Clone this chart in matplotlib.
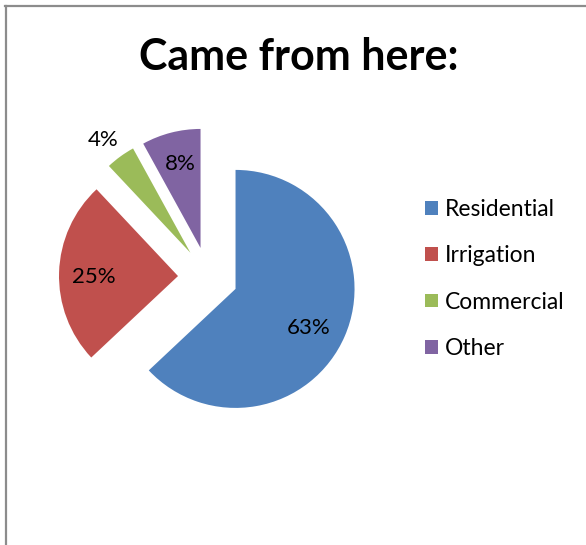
import matplotlib
matplotlib.use("Agg")
import matplotlib.pyplot as plt
from matplotlib.lines import Line2D
from matplotlib.patches import Patch
import numpy as np

categories = ["Residential", "Irrigation", "Commercial", "Other"]
values = [63, 25, 4, 8]
pct_labels = ["63%", "25%", "4%", "8%"]
colors = ["#4F81BD", "#C0504D", "#9BBB59", "#8064A2"]

W, H = 586, 545
fig = plt.figure(figsize=(W / 100, H / 100), dpi=100)
ax = fig.add_axes([0, 0, 1, 1])

R = 119
EXPLODE = 30
center = (208, H - 277)

wedges, texts = ax.pie(values, colors=colors, startangle=90, counterclock=False,
                       radius=R, center=center, explode=[EXPLODE] * len(values),
                       wedgeprops=dict(linewidth=0), frame=True)
ax.set_xlim(0, W)
ax.set_ylim(0, H)
ax.axis("off")

# percent labels (distance from slice apex as fraction of radius, small nudges)
dist = [0.70, 0.72, 1.22, 0.74]
nudge = [(-3, -6), (1, -4), (-2, -5), (2, -1)]
for w, lab, d, (nx, ny) in zip(wedges, pct_labels, dist, nudge):
    th = np.deg2rad((w.theta1 + w.theta2) / 2)
    cx, cy = w.center
    ax.text(cx + R * d * np.cos(th) + nx, cy + R * d * np.sin(th) + ny, lab,
            ha="center", va="center", fontsize=16, family="Lato", color="black")

# title
fig.text(299 / W, 1 - 57 / H, "Came from here:", ha="center", va="center",
         fontsize=31, fontweight="bold", family="Lato", color="black")

# legend
handles = [Patch(facecolor=c, edgecolor="none") for c in colors]
leg = ax.legend(handles, categories, loc="center left",
                bbox_to_anchor=(425 / W, 1 - 279 / H), bbox_transform=fig.transFigure,
                frameon=False, prop=dict(family="Lato", size=16.5),
                handlelength=0.55, handleheight=0.55, handletextpad=0.32,
                labelspacing=1.10, borderpad=0, borderaxespad=0)

# border lines (top and left)
fig.add_artist(Line2D([5 / W, 1], [1 - 6 / H, 1 - 6 / H], transform=fig.transFigure,
                      color="#8c8c8c", linewidth=1.6))
fig.add_artist(Line2D([6 / W, 6 / W], [1 - 6 / H, 0], transform=fig.transFigure,
                      color="#8c8c8c", linewidth=1.6))

fig.savefig("out.png", dpi=100)
